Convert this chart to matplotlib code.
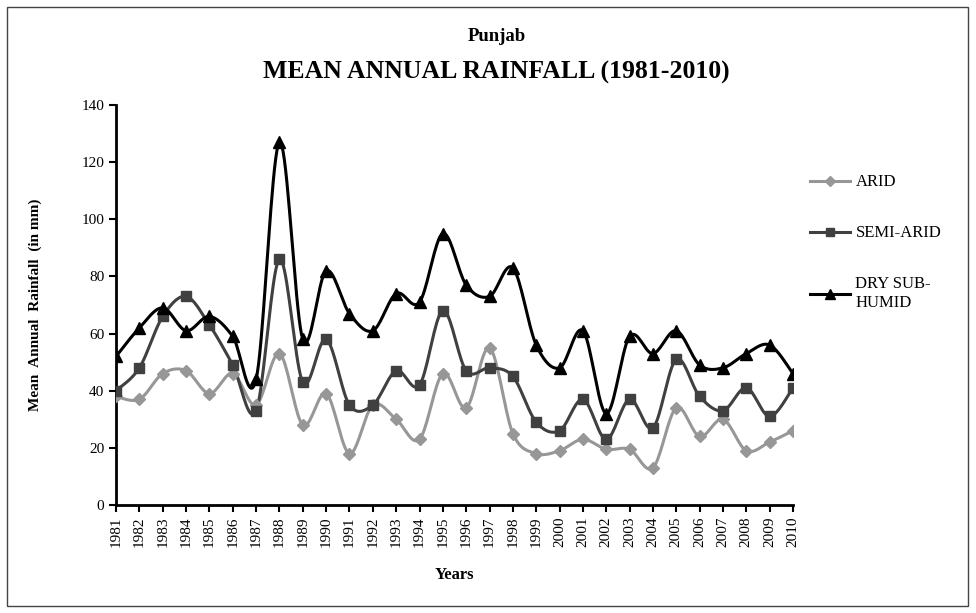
import matplotlib.pyplot as plt
import numpy as np
from matplotlib.patches import Rectangle

years = list(range(1981, 2011))
arid = [38, 37, 46, 47, 39, 46, 35, 53, 28, 39, 18, 35, 30, 23, 46, 34, 55, 25, 18, 19,
        23, 19.5, 19.5, 13, 34, 24, 30, 19, 22, 26]
semi_arid = [40, 48, 66, 73, 63, 49, 33, 86, 43, 58, 35, 35, 47, 42, 68, 47, 48, 45, 29, 26,
             37, 23, 37, 27, 51, 38, 33, 41, 31, 41]
dry_sub_humid = [52, 62, 69, 61, 66, 59, 44, 127, 58, 82, 67, 61, 74, 71, 95, 77, 73, 83, 56, 48,
                 61, 32, 59, 53, 61, 49, 48, 53, 56, 46]
labels = ['ARID', 'SEMI-ARID', 'DRY SUB-\nHUMID']


def smooth(x, y, n=20):
    # excel-like smoothed line (catmull-rom as bezier)
    x = np.asarray(x, float)
    y = np.asarray(y, float)
    px = np.concatenate([[x[0]], x, [x[-1]]])
    py = np.concatenate([[y[0]], y, [y[-1]]])
    xs, ys = [], []
    t = np.linspace(0, 1, n)
    for i in range(1, len(px) - 2):
        x0, x1, x2, x3 = px[i - 1], px[i], px[i + 1], px[i + 2]
        y0, y1, y2, y3 = py[i - 1], py[i], py[i + 1], py[i + 2]
        cx1, cy1 = x1 + (x2 - x0) / 6, y1 + (y2 - y0) / 6
        cx2, cy2 = x2 - (x3 - x1) / 6, y2 - (y3 - y1) / 6
        bx = (1-t)**3*x1 + 3*(1-t)**2*t*cx1 + 3*(1-t)*t**2*cx2 + t**3*x2
        by = (1-t)**3*y1 + 3*(1-t)**2*t*cy1 + 3*(1-t)*t**2*cy2 + t**3*y2
        xs.extend(bx)
        ys.extend(by)
    return xs, ys


plt.rcParams['font.family'] = 'Liberation Serif'

fig = plt.figure(figsize=(9.76, 6.13), dpi=100)
fig.patches.append(Rectangle((0.007, 0.011), 0.985, 0.978, transform=fig.transFigure,
                             fill=False, edgecolor='#444444', linewidth=1))
ax = fig.add_axes([0.1189, 0.1762, 0.6936, 0.6525])

series = [arid, semi_arid, dry_sub_humid]
colors = ['#979797', '#404040', '#000000']
markers = ['D', 's', '^']
msizes = [6, 7, 8]

for vals, c, m, ms, lab in zip(series, colors, markers, msizes, labels):
    sx, sy = smooth(years, vals)
    ax.plot(sx, sy, color=c, linewidth=2.2, zorder=2)
    ax.plot(years, vals, linestyle='none', marker=m, markersize=ms, color=c, zorder=3)
    ax.plot([], [], color=c, linewidth=2.2, marker=m, markersize=ms - 1, label=lab)

ax.set_xlim(1981, 2010)
ax.set_ylim(0, 140)
ax.set_yticks(range(0, 141, 20))
ax.set_xticks(years)
ax.set_xticklabels([str(y) for y in years], rotation=90, fontsize=11)
ax.tick_params(axis='y', labelsize=11, direction='out', length=5, width=1.5)
ax.tick_params(axis='x', direction='out', length=5, width=1.5)
for s in ['top', 'right']:
    ax.spines[s].set_visible(False)
for s in ['left', 'bottom']:
    ax.spines[s].set_linewidth(2)

ax.set_ylabel('Mean  Annual  Rainfall  (in mm)', fontsize=11, fontweight='bold', labelpad=28)
ax.set_xlabel('Years', fontsize=12, fontweight='bold', labelpad=14)

fig.text(0.509, 0.94, 'Punjab', ha='center', va='center', fontsize=13.5, fontweight='bold')
fig.text(0.509, 0.881, 'MEAN ANNUAL RAINFALL (1981-2010)', ha='center', va='center',
         fontsize=18.5, fontweight='bold')

fig.legend(loc='upper left', bbox_to_anchor=(0.815, 0.74), frameon=False, fontsize=12,
           handlelength=2.4, labelspacing=2.1, handletextpad=0.3)

fig.savefig('out.png', dpi=100)
